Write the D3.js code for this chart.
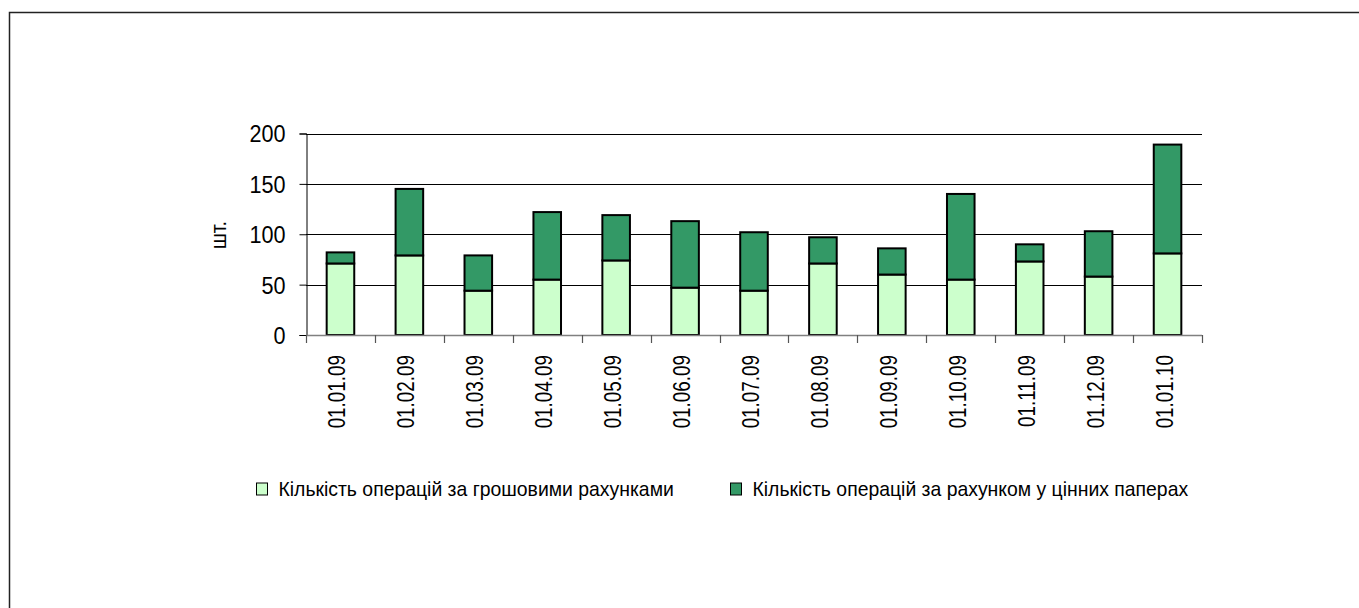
<!DOCTYPE html>
<html>
<head>
<meta charset="utf-8">
<script src="https://cdn.jsdelivr.net/npm/d3@7"></script>
<style>
  html, body { margin: 0; padding: 0; background: #fff; }
  text { font-family: Arial, "Liberation Sans", sans-serif; fill: #000; }
</style>
</head>
<body>
<svg id="chart" width="1359" height="608"></svg>
<script>
const categories = ["01.01.09","01.02.09","01.03.09","01.04.09","01.05.09","01.06.09","01.07.09","01.08.09","01.09.09","01.10.09","01.11.09","01.12.09","01.01.10"];
const cashOps = [71, 79, 44, 55, 74, 47, 44, 71, 60, 55, 73, 58, 81];
const securitiesOps = [11, 66, 35, 67, 45, 66, 58, 26, 26, 85, 17, 45, 108];
const yTicks = [0, 50, 100, 150, 200];
const seriesNames = ["Кількість операцій за грошовими рахунками", "Кількість операцій за рахунком у цінних паперах"];
const yTitle = "шт.";

(function () {
const colors = ["#CCFFCC", "#339966"];
const svg = d3.select("#chart");

// outer frame
svg.append("rect").attr("x", 9.5).attr("y", 12.5).attr("width", 1400).attr("height", 700)
  .attr("fill", "none").attr("stroke", "#222").attr("stroke-width", 1.5);

const pLeft = 306, pRight = 1202, pTop = 133.5, pBottom = 335;
const x = d3.scaleBand().domain(categories).range([pLeft, pRight]).paddingInner(0.6).paddingOuter(0.3);
const xb = d3.scaleBand().domain(categories).range([pLeft, pRight]);
const y = d3.scaleLinear().domain([0, 200]).range([pBottom, pTop]);

// gridlines
svg.append("g").selectAll("line").data(yTicks.filter(d => d > 0)).join("line")
  .attr("x1", pLeft).attr("x2", pRight)
  .attr("y1", d => Math.round(y(d)) + 0.5).attr("y2", d => Math.round(y(d)) + 0.5)
  .attr("stroke", "#000").attr("stroke-width", 1);

// stacked data
const data = categories.map((c, i) => ({cat: c, a: cashOps[i], b: securitiesOps[i]}));
const stack = d3.stack().keys(["a", "b"])(data);

const g = svg.append("g");
stack.forEach((layer, li) => {
  g.append("g").selectAll("rect").data(layer).join("rect")
    .attr("x", d => x(d.data.cat))
    .attr("width", x.bandwidth())
    .attr("y", d => y(d[1]))
    .attr("height", d => y(d[0]) - y(d[1]))
    .attr("fill", colors[li])
    .attr("stroke", "#000").attr("stroke-width", 2);
});

// y axis
const yAxis = d3.axisLeft(y).tickValues(yTicks).tickSize(7).tickFormat(d3.format("d"));
const ya = svg.append("g").attr("transform", `translate(${pLeft + 0.5},0)`).call(yAxis);
ya.select(".domain").attr("stroke", "#000");
ya.selectAll(".tick line").attr("stroke", "#000");
ya.selectAll(".tick text").remove();
ya.selectAll(".tick").append("g")
  .attr("transform", "translate(-21,0) scale(0.9,1)")
  .append("text").attr("text-anchor", "end").attr("dy", "0.35em")
  .style("font-size", "24px").text(d => d);

// x axis (category boundaries)
const xAxisLine = svg.append("g");
xAxisLine.append("line").attr("x1", pLeft).attr("x2", pRight).attr("y1", pBottom + 0.5).attr("y2", pBottom + 0.5)
  .attr("stroke", "#808080").attr("stroke-width", 1.5);
const bounds = categories.map(c => xb(c)).concat([pRight]);
xAxisLine.selectAll("line.t").data(bounds).join("line").attr("class", "t")
  .attr("x1", d => Math.round(d) + 0.5).attr("x2", d => Math.round(d) + 0.5)
  .attr("y1", pBottom).attr("y2", pBottom + 8).attr("stroke", "#555").attr("stroke-width", 1.2);

// x labels
svg.append("g").selectAll("g").data(categories).join("g")
  .attr("transform", d => `translate(${x(d) + x.bandwidth() / 2 + 5},355) rotate(-90) scale(0.82,1)`)
  .append("text").attr("text-anchor", "end").style("font-size", "23px").text(d => d);

// y title
svg.append("g").attr("transform", `translate(226,235) rotate(-90) scale(0.9,1)`)
  .append("text").attr("text-anchor", "middle").style("font-size", "22px").text(yTitle);

// legend
const legendX = [256.5, 730.5];
const legend = svg.append("g").selectAll("g").data(seriesNames).join("g")
  .attr("transform", (d, i) => `translate(${legendX[i]},483)`);
legend.append("rect").attr("width", 11).attr("height", 12)
  .attr("fill", (d, i) => colors[i]).attr("stroke", "#000").attr("stroke-width", 1);
legend.append("g").attr("transform", "translate(22,13) scale(0.97,1)")
  .append("text").style("font-size", "20px").text(d => d);
})();
</script>
</body>
</html>
